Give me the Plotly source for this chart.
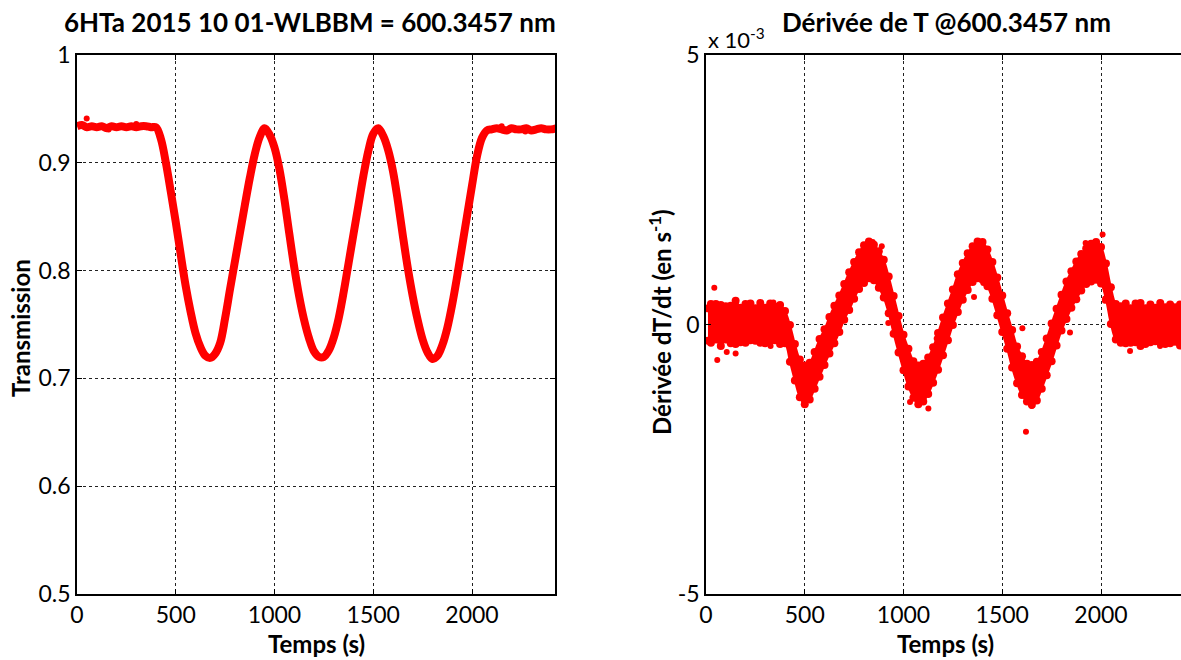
import plotly.graph_objects as go

# ---------------- data ----------------
# Left panel: transmission vs time
t_trans = list(range(0, 2426, 25))
T_vals = [
    0.934, 0.935, 0.933, 0.934, 0.933, 0.934, 0.932, 0.934, 0.933, 0.934,
    0.933, 0.934, 0.933, 0.934, 0.934, 0.933, 0.933,
    0.922, 0.900, 0.873, 0.845, 0.815, 0.786, 0.762, 0.742, 0.729, 0.721,
    0.719, 0.723, 0.733, 0.756, 0.783, 0.809, 0.835, 0.861, 0.886, 0.908,
    0.924, 0.932, 0.926, 0.914, 0.894, 0.866, 0.834, 0.803, 0.776, 0.754,
    0.737, 0.725, 0.720, 0.720, 0.726, 0.738, 0.756, 0.780, 0.807, 0.834,
    0.861, 0.888, 0.911, 0.927, 0.932, 0.925, 0.912, 0.892, 0.864, 0.832,
    0.802, 0.776, 0.754, 0.736, 0.724, 0.718, 0.721, 0.731, 0.747, 0.769,
    0.795, 0.823, 0.851, 0.879, 0.906, 0.923, 0.930, 0.931, 0.932, 0.931,
    0.930, 0.932, 0.931, 0.931, 0.932, 0.930, 0.931, 0.932, 0.931, 0.931,
    0.932, 0.931,
]
T_out_t = [49, 160, 300, 2150, 2270]
T_out_v = [0.941, 0.931, 0.936, 0.934, 0.929]

# Right panel: derivative (units of 1e-3 s^-1), band centre and half-spread
t_der = [10] + list(range(25, 2426, 25))
D_center = [
    0.0, 0.02, 0.05, -0.02, 0.03, 0.0, 0.04, -0.01, 0.02, 0.05, 0.0,
    0.03, -0.02, 0.04, 0.02, 0.0, -0.05,
    -0.35, -0.70, -1.00, -1.12, -1.05, -0.85, -0.62, -0.42, -0.20, 0.00,
    0.20, 0.42, 0.62, 0.82, 1.00, 1.12, 1.20, 1.15, 1.02, 0.85, 0.55,
    0.18, -0.18, -0.52, -0.80, -1.02, -1.12, -1.08, -0.95, -0.75, -0.50,
    -0.22, 0.05, 0.32, 0.58, 0.80, 0.98, 1.12, 1.20, 1.18, 1.05, 0.82,
    0.52, 0.20, -0.12, -0.45, -0.75, -0.95, -1.08, -1.12, -1.05, -0.85,
    -0.60, -0.33, -0.05, 0.22, 0.45, 0.65, 0.82, 0.97, 1.08, 1.15, 1.18,
    1.10, 0.80, 0.35, 0.05, 0.0, 0.02, -0.02, 0.03, 0.0, -0.03, 0.02,
    0.0, 0.03, -0.02, 0.01, 0.0, -0.01, 0.02,
]
D_spread = [
    0.30, 0.36, 0.33, 0.38, 0.31, 0.35, 0.40, 0.32, 0.36, 0.34, 0.30,
    0.37, 0.33, 0.35, 0.31, 0.36, 0.30,
    0.34, 0.34, 0.35, 0.36, 0.34, 0.34, 0.35, 0.33, 0.34, 0.35,
    0.34, 0.33, 0.35, 0.34, 0.34, 0.35, 0.34, 0.33, 0.34, 0.35, 0.34,
    0.35, 0.34, 0.33, 0.35, 0.34, 0.36, 0.35, 0.34, 0.33, 0.34,
    0.35, 0.34, 0.33, 0.35, 0.34, 0.34, 0.33, 0.34, 0.35, 0.34, 0.34,
    0.35, 0.34, 0.33, 0.35, 0.34, 0.36, 0.35, 0.37, 0.36, 0.34,
    0.34, 0.35, 0.34, 0.33, 0.35, 0.34, 0.35, 0.34, 0.33, 0.35, 0.35,
    0.34, 0.33, 0.34, 0.33, 0.34, 0.37, 0.32, 0.36, 0.40, 0.33, 0.35,
    0.31, 0.37, 0.34, 0.36, 0.32, 0.38, 0.33,
]
D_out_t = [42, 57, 105, 150, 327, 341, 501, 844, 890, 923, 1033, 1067, 1126,
           1168, 1379, 1399, 1357, 1404, 1602, 1620, 1640, 1649, 1843, 1922,
           2008, 2020, 2147, 2198, 2299]
D_out_v = [0.68, -0.66, -0.51, -0.54, -0.40, 0.41, -1.45, 1.53, 1.45, 0.03,
           -1.44, -0.83, -1.56, -0.26, 1.52, 1.52, 0.51, 0.77, -0.07, -1.99,
           -0.77, -1.51, -0.15, 1.51, 1.67, 0.44, -0.49, 0.40, -0.40]

x_ticks = [0, 500, 1000, 1500, 2000]
T_ticks = [0.5, 0.6, 0.7, 0.8, 0.9, 1.0]
T_ticktext = ["0.5", "0.6", "0.7", "0.8", "0.9", "1"]
D_ticks = [-5, 0, 5]
D_ticktext = ["-5", "0", "5"]

RED = "#ff0000"
FONT = "Lato"

fig = go.Figure()

# left panel
fig.add_trace(go.Scatter(x=t_trans, y=T_vals, mode="lines", line=dict(color=RED, width=8, shape="spline"),
                         xaxis="x", yaxis="y", showlegend=False, hoverinfo="skip"))
fig.add_trace(go.Scatter(x=T_out_t, y=T_out_v, mode="markers", marker=dict(color=RED, size=6),
                         xaxis="x", yaxis="y", showlegend=False))

# right panel band
upper = [c + s for c, s in zip(D_center, D_spread)]
lower = [c - s for c, s in zip(D_center, D_spread)]
fig.add_trace(go.Scatter(x=t_der + t_der[::-1], y=upper + lower[::-1], mode="lines", fill="toself",
                         fillcolor=RED, line=dict(color=RED, width=2, shape="spline"),
                         xaxis="x2", yaxis="y2", showlegend=False, hoverinfo="skip"))
fig.add_trace(go.Scatter(x=t_der + t_der, y=upper + lower, mode="markers", marker=dict(color=RED, size=8),
                         xaxis="x2", yaxis="y2", showlegend=False))
fig.add_trace(go.Scatter(x=D_out_t, y=D_out_v, mode="markers", marker=dict(color=RED, size=6),
                         xaxis="x2", yaxis="y2", showlegend=False))

axis_common = dict(showline=True, linecolor="black", linewidth=1.5, ticks="inside", ticklen=5,
                   tickcolor="black", showgrid=True, gridcolor="#222", griddash="dot", gridwidth=1,
                   zeroline=False, automargin=False,
                   tickfont=dict(family=FONT, size=23, color="black"))

fig.update_layout(
    width=1181, height=660, autosize=False,
    margin=dict(l=0, r=0, t=0, b=0, pad=0),
    paper_bgcolor="white", plot_bgcolor="white",
    xaxis=dict(domain=[77 / 1181, 555 / 1181], range=[0, 2420], tickvals=x_ticks, mirror="ticks",
               anchor="y", **axis_common),
    yaxis=dict(domain=[1 - 594 / 660, 1 - 55 / 660], range=[0.5, 1.0], tickvals=T_ticks, ticktext=T_ticktext,
               mirror="ticks", anchor="x", **axis_common),
    xaxis2=dict(domain=[706 / 1181, 1.0], range=[0, 2405], tickvals=x_ticks, mirror="ticks",
                anchor="y2", **axis_common),
    yaxis2=dict(domain=[1 - 594 / 660, 1 - 55 / 660], range=[-5, 5], tickvals=D_ticks, ticktext=D_ticktext,
                mirror=False, anchor="x2", **axis_common),
)

def ann(text, px, py, size, angle=0, xanchor="center"):
    fig.add_annotation(text=text, x=px / 1181, y=1 - py / 660, xref="paper", yref="paper",
                       showarrow=False, textangle=angle, xanchor=xanchor, yanchor="middle",
                       font=dict(family=FONT, size=size, color="black"))

ann("<b>6HTa 2015 10 01-WLBBM = 600.3457 nm</b>", 310, 22, 26)
ann("<b>Dérivée de T @600.3457 nm</b>", 946, 22, 26)
ann("x 10<sup>-3</sup>", 706, 38, 22, xanchor="left")
ann("<b>Temps (s)</b>", 316, 643, 24)
ann("<b>Temps (s)</b>", 945, 643, 24)
ann("<b>Transmission</b>", 20, 328, 24, angle=-90)
ann("<b>Dérivée dT/dt (en s<sup>-1</sup>)</b>", 660, 322, 24, angle=-90)

fig.write_html("out.html", config={"displayModeBar": False},
               post_script="document.body.style.margin='0';document.body.style.overflow='hidden';")
